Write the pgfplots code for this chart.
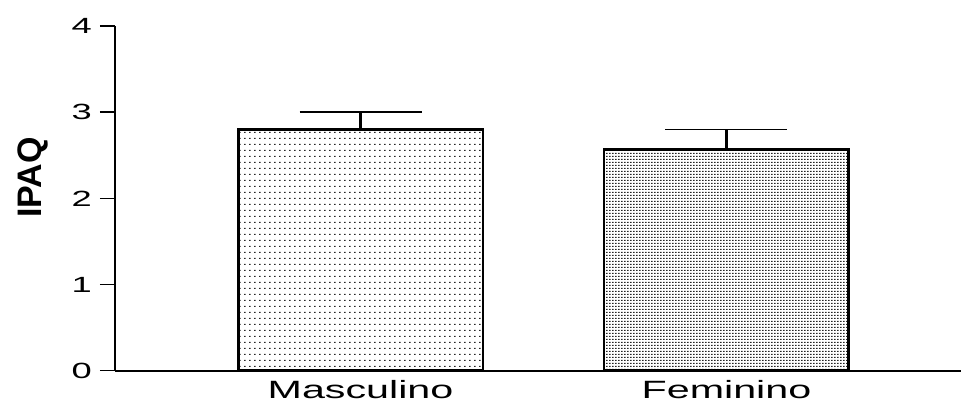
\documentclass[border=0pt]{standalone}
\usepackage{fontspec}
\setmainfont{Liberation Sans}
\newfontfamily\stretchfont[FakeStretch=1.65]{Liberation Sans}
\usepackage{pgfplots}
\pgfplotsset{compat=1.18}
\usetikzlibrary{patterns}

\pgfdeclarepatternformonly{sparsedots}{\pgfqpoint{0bp}{0bp}}{\pgfqpoint{4.5bp}{6bp}}{\pgfqpoint{4.5bp}{6bp}}{%
  \pgfpathrectangle{\pgfqpoint{0bp}{0bp}}{\pgfqpoint{1.7bp}{1.2bp}}\pgfusepath{fill}}
\pgfdeclarepatternformonly{densedots}{\pgfqpoint{0bp}{0bp}}{\pgfqpoint{3bp}{3bp}}{\pgfqpoint{3bp}{3bp}}{%
  \pgfpathrectangle{\pgfqpoint{0bp}{0bp}}{\pgfqpoint{2.1bp}{1.6bp}}\pgfusepath{fill}}

\begin{document}
\begin{tikzpicture}
\begin{axis}[
  at={(115bp,32.3bp)}, anchor=south west,
  scale only axis, width=846bp, height=344.7bp,
  xmin=-0.671, xmax=1.641, ymin=0, ymax=4,
  axis x line*=bottom, axis y line*=left,
  axis line style={line width=2bp, black},
  xtick={0,1}, xticklabels={Masculino,Feminino},
  ytick={0,1,2,3,4},
  tick align=outside, major tick length=15bp,
  x tick style={draw=none},
  y tick style={line width=1.5bp, black},
  /pgf/number format/assume math mode=true,
  yticklabel style={font=\stretchfont\fontsize{22bp}{22bp}\selectfont, anchor=east, inner sep=0pt, xshift=-8bp},
  xticklabel style={font=\stretchfont\fontsize{25bp}{25bp}\selectfont, anchor=north, inner sep=0pt, yshift=5.5bp},
  ylabel={IPAQ},
  ylabel style={font=\fontsize{34bp}{34bp}\selectfont\bfseries, at={(axis description cs:-0.0975,0.56)}, anchor=center},
  clip=false,
]
\addplot[ybar, bar shift=0pt, bar width=0.669, draw=black, line width=2.8bp,
  pattern=sparsedots, pattern color=black!85,
  error bars/.cd, y dir=plus, y explicit, error mark=|,
  error bar style={line width=2.2bp, black},
  error mark options={line width=1.8bp, mark size=61bp, black}]
  coordinates {(0,2.80) +- (0,0.20)};
\addplot[ybar, bar shift=0pt, bar width=0.669, draw=black, line width=2.8bp,
  pattern=densedots, pattern color=black!85,
  error bars/.cd, y dir=plus, y explicit, error mark=|,
  error bar style={line width=2.2bp, black},
  error mark options={line width=1.8bp, mark size=61bp, black}]
  coordinates {(1,2.57) +- (0,0.23)};
\end{axis}
\pgfresetboundingbox
\path (0,0) rectangle (961bp,403bp);
\end{tikzpicture}
\end{document}
